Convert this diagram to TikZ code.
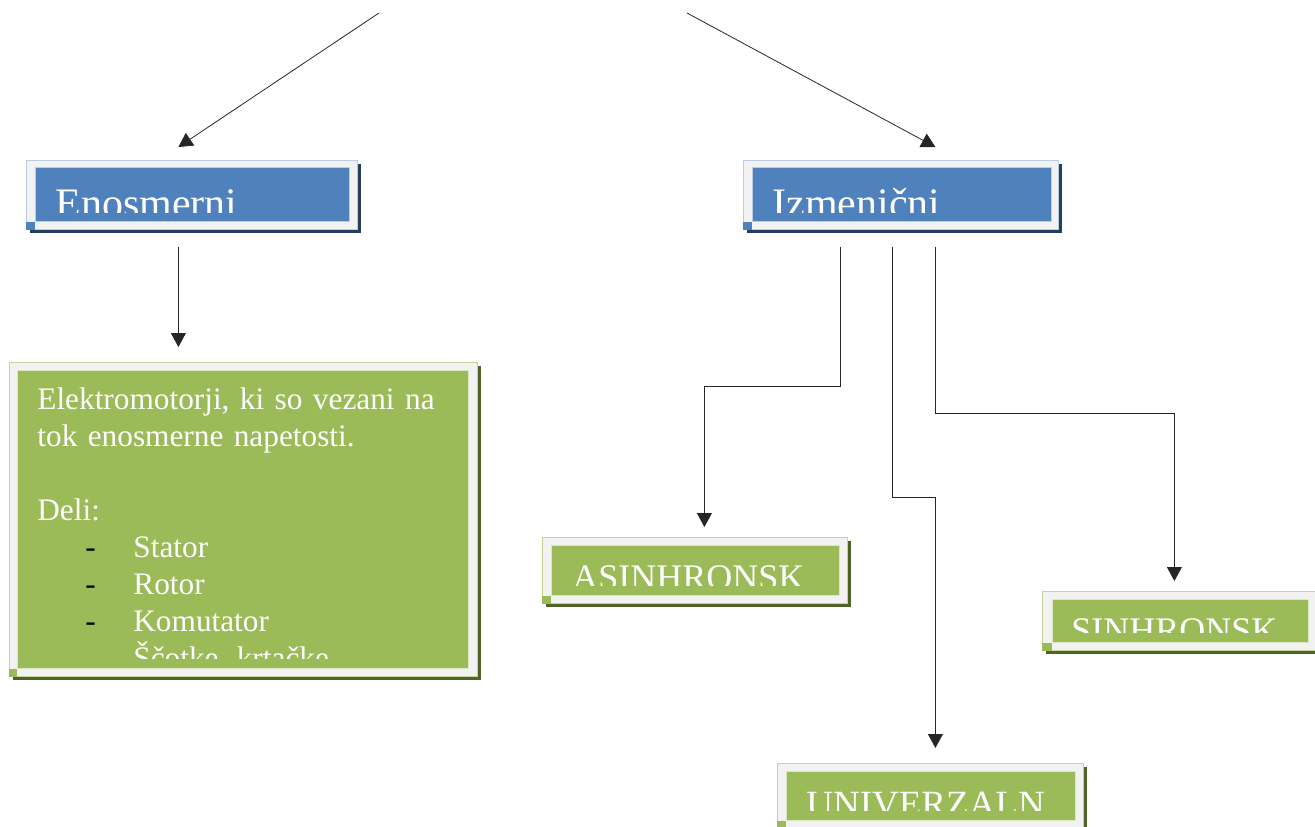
\documentclass[tikz,border=0pt]{standalone}
\usepackage{fontspec}
\setmainfont{Liberation Serif}
\usetikzlibrary{positioning,arrows.meta,shadows}
\definecolor{boxblue}{HTML}{4F81BD}
\definecolor{blueshade}{HTML}{243F60}
\definecolor{blueline}{HTML}{B9CDE5}
\definecolor{boxgreen}{HTML}{9BBB59}
\definecolor{greenshade}{HTML}{4F6228}
\definecolor{greenline}{HTML}{C3D69B}
\definecolor{framegray}{HTML}{F2F2F2}

\begin{document}
\begin{tikzpicture}[x=1pt,y=-1pt,line width=0.8pt,
  outerframe/.style={anchor=north west,inner sep=0pt,fill=framegray,draw=#1,line width=.8pt},
  blueframe/.style={outerframe=blueline,drop shadow={shadow xshift=4pt,shadow yshift=-4pt,fill=blueshade,opacity=1}},
  greenframe/.style={outerframe=greenline,drop shadow={shadow xshift=4pt,shadow yshift=-4pt,fill=greenshade,opacity=1}},
  bluebox/.style={anchor=north west,inner sep=0pt,fill=boxblue,draw=blueline,line width=.6pt},
  greenbox/.style={anchor=north west,inner sep=0pt,fill=boxgreen,draw=greenline!60,line width=.6pt},
  title/.style={anchor=base west,inner sep=0pt,text=white,font=\fontsize{#1}{#1}\selectfont},
  arr/.style={-{Triangle[length=14pt,width=15pt]},draw=black!85}]
  \useasboundingbox (0,0) rectangle (1315,827);

  % levi del
  \node[blueframe,minimum width=331,minimum height=69] (enos) at (26,160) {};
  \node[bluebox,minimum width=314,minimum height=54] (enosin) at (35,167) {};
  \fill[boxblue] (enos.south west) rectangle (enosin.south west);
  \begin{scope}
    \clip (enosin.north west) rectangle ([yshift=9pt]enosin.south east);
    \node[title=42] (enostxt) at (55,217) {Enosmerni};
  \end{scope}

  \node[greenframe,minimum width=468,minimum height=314] (motor) at (9,362) {};
  \node[greenbox,minimum width=451,minimum height=298] (motorin) at (17,370) {};
  \fill[boxgreen] (motor.south west) rectangle (motorin.south west);
  \begin{scope}
    \clip (motorin.north west) rectangle ([yshift=10pt]motorin.south east);
    \node[anchor=base west,inner sep=0pt,text width=440,align=left,text=white,
      font=\fontsize{31.3}{37}\selectfont] (motortxt) at (37,409)
      {Elektromotorji, ki so vezani na\\
       tok enosmerne napetosti.\\[37pt]
       Deli:\\
       \hspace*{48pt}\makebox[48pt][l]{\textcolor{black}{-}}Stator\\
       \hspace*{48pt}\makebox[48pt][l]{\textcolor{black}{-}}Rotor\\
       \hspace*{48pt}\makebox[48pt][l]{\textcolor{black}{-}}Komutator\\
       \hspace*{48pt}\makebox[48pt][l]{\textcolor{black}{-}}Ščotke, krtačke};
  \end{scope}

  % desni del
  \node[blueframe,minimum width=315,minimum height=69] (izm) at (743,160) {};
  \node[bluebox,minimum width=299,minimum height=54] (izmin) at (752,167) {};
  \fill[boxblue] (izm.south west) rectangle (izmin.south west);
  \begin{scope}
    \clip (izmin.north west) rectangle ([yshift=9pt]izmin.south east);
    \node[title=42] (izmtxt) at (772,217) {Izmenični};
  \end{scope}

  \node[greenframe,minimum width=305,minimum height=66] (asin) at (542,537) {};
  \node[greenbox,minimum width=288,minimum height=50] (asinin) at (551,545) {};
  \fill[boxgreen] (asin.south west) rectangle (asinin.south west);
  \begin{scope}
    \clip (asinin.north west) rectangle ([yshift=10pt]asinin.south east);
    \node[title=36] (asintxt) at (572,589) {ASINHRONSK};
  \end{scope}

  \node[greenframe,minimum width=283,minimum height=59] (sin) at (1042,591) {};
  \node[greenbox,minimum width=256,minimum height=43] (sinin) at (1052,599) {};
  \fill[boxgreen] (sin.south west) rectangle (sinin.south west);
  \begin{scope}
    \clip (sinin.north west) rectangle ([yshift=10pt]sinin.south east);
    \node[title=36] (sintxt) at (1071,642) {SINHRONSK};
  \end{scope}

  \node[greenframe,minimum width=306,minimum height=65] (univ) at (777,763) {};
  \node[greenbox,minimum width=289,minimum height=49] (univin) at (786,771) {};
  \fill[boxgreen] (univ.south west) rectangle (univin.south west);
  \begin{scope}
    \clip (univin.north west) rectangle ([yshift=10pt]univin.south east);
    \node[title=37] (univtxt) at (806,816) {UNIVERZALN};
  \end{scope}

  % povezave
  \coordinate (topl) at (379,13);
  \coordinate (topr) at (687,13);
  \draw[arr] (topl) -- ([xshift=-13.5pt,yshift=13pt]enos.north);
  \draw[arr] (topr) -- ([xshift=34.5pt,yshift=13pt]izm.north);
  \draw[arr,shorten <=17pt,shorten >=15pt] ([xshift=-13.5pt]enos.south) -- ([xshift=-13.5pt]enos.south |- motor.north);
  \draw[arr,shorten <=17pt,shorten >=10pt] ([xshift=-60.5pt]izm.south) -- ++(0,157) -| ([xshift=9.5pt]asin.north);
  \draw[arr,shorten <=17pt,shorten >=15pt] ([xshift=-8.5pt]izm.south) -- ++(0,268) -| ([xshift=5pt]univ.north);
  \draw[arr,shorten <=17pt,shorten >=10pt] ([xshift=34.5pt]izm.south) -- ++(0,184) -| ([xshift=-9.5pt]sin.north);
\end{tikzpicture}
\end{document}
